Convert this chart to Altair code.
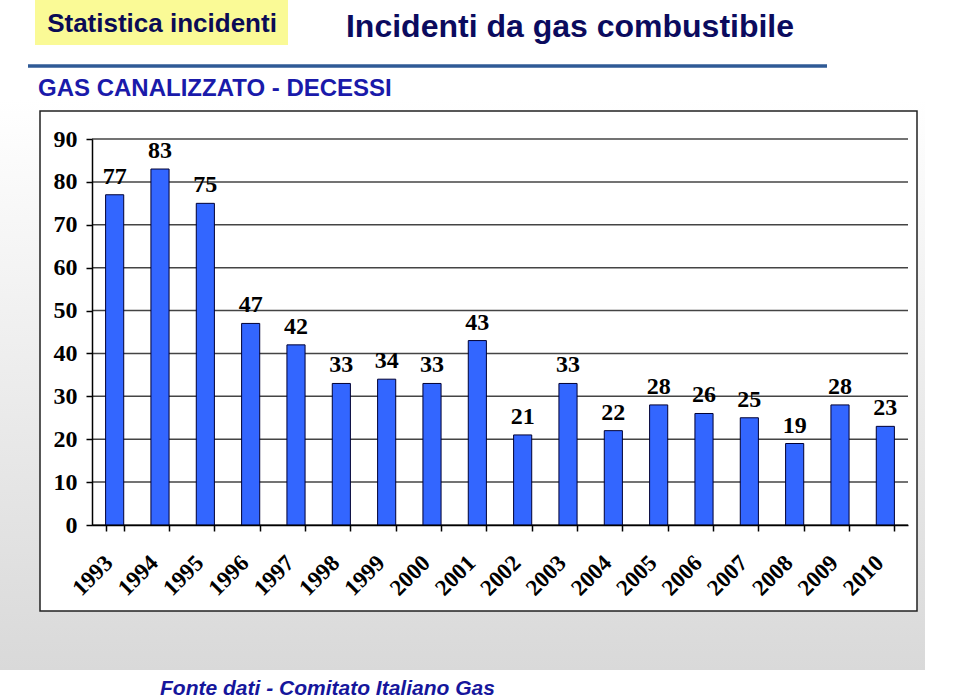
import altair as alt
import pandas as pd

# ---- data ----
years = [str(y) for y in range(1993, 2011)]
deaths = [77, 83, 75, 47, 42, 33, 34, 33, 43, 21, 33, 22, 28, 26, 25, 19, 28, 23]
y_ticks = list(range(0, 100, 10))

header_left = "Statistica incidenti"
header_main = "Incidenti da gas combustibile"
subtitle = "GAS CANALIZZATO - DECESSI"
footer = "Fonte dati - Comitato Italiano Gas"

df = pd.DataFrame({"anno": years, "decessi": deaths})
grid_df = pd.DataFrame({"decessi": y_ticks})
one = alt.Data(values=[{}])

W, H = 816, 386
SERIF = "Liberation Serif"
SANS = "Liberation Sans"

x_axis = alt.Axis(
    labelAngle=-45, labelAlign="right", labelBaseline="middle",
    labelFont=SERIF, labelFontWeight="bold", labelFontSize=23,
    labelColor="black", labelPadding=28, labelOffset=-6, tickBand="extent",
    tickSize=6, tickColor="black", tickWidth=1.5,
    domainColor="black", domainWidth=1.5, grid=False, zindex=2,
)
y_axis = alt.Axis(
    values=y_ticks, grid=False,
    labelFont=SERIF, labelFontWeight="bold", labelFontSize=24,
    labelColor="black", labelPadding=9, tickSize=6, tickColor="black",
    tickWidth=1.5, domainColor="black", domainWidth=1.5, zindex=2,
)
x_enc = alt.X("anno:N", sort=None, title=None,
              scale=alt.Scale(paddingInner=0.6, paddingOuter=0.3), axis=x_axis)
y_enc = alt.Y("decessi:Q", title=None,
              scale=alt.Scale(domain=[0, 90], nice=False), axis=y_axis)

gradient = {
    "gradient": "linear", "x1": 0, "y1": 0, "x2": 0, "y2": 1,
    "stops": [{"offset": 0, "color": "#ffffff"}, {"offset": 1, "color": "#d9d9d9"}],
}

bg = alt.Chart(one).mark_rect(fill=gradient).encode(
    x=alt.value(-92), x2=alt.value(833), y=alt.value(-39), y2=alt.value(531)
)
frame = alt.Chart(one).mark_rect(fill="white", stroke="#222222", strokeWidth=1.5).encode(
    x=alt.value(-52), x2=alt.value(825), y=alt.value(-28), y2=alt.value(472)
)

gridlines = alt.Chart(grid_df).mark_rule(color="#444444", strokeWidth=1.5).encode(
    y=y_enc
)

bars = alt.Chart(df).mark_bar(color="#3366FF", stroke="#000033", strokeWidth=1).encode(
    x=x_enc, y=y_enc
)
labels = alt.Chart(df).mark_text(
    baseline="alphabetic", dy=-11, font=SERIF, fontWeight="bold",
    fontSize=24, color="black",
).encode(x=x_enc, y=y_enc, text="decessi:Q")

ybox = alt.Chart(one).mark_rect(fill="#FAFA96").encode(
    x=alt.value(-57), x2=alt.value(196), y=alt.value(-139), y2=alt.value(-94)
)
t_left = alt.Chart(one).mark_text(
    font=SANS, fontWeight="bold", fontSize=26, color="#0B0B55",
    align="center", baseline="alphabetic",
).encode(x=alt.value(70), y=alt.value(-107), text=alt.value(header_left))
t_main = alt.Chart(one).mark_text(
    font=SANS, fontWeight="bold", fontSize=32, color="#0B0B5E",
    align="center", baseline="alphabetic",
).encode(x=alt.value(478), y=alt.value(-102), text=alt.value(header_main))
hline = alt.Chart(one).mark_rule(color="#2F5A96", strokeWidth=3.5).encode(
    x=alt.value(-64), x2=alt.value(735), y=alt.value(-73)
)
t_sub = alt.Chart(one).mark_text(
    font=SANS, fontWeight="bold", fontSize=24, color="#1A1AAA",
    align="left", baseline="alphabetic",
).encode(x=alt.value(-54), y=alt.value(-43), text=alt.value(subtitle))
t_foot = alt.Chart(one).mark_text(
    font=SANS, fontWeight="bold", fontStyle="italic", fontSize=21,
    color="#16169C", align="left", baseline="alphabetic",
).encode(x=alt.value(68), y=alt.value(556), text=alt.value(footer))

chart = alt.layer(
    bg, frame, gridlines, bars, labels, ybox, t_left, t_main, hline, t_sub, t_foot
).properties(
    width=W, height=H,
    autosize=alt.AutoSizeParams(type="none"),
    padding={"left": 92, "top": 139, "right": 52, "bottom": 175},
    background="white",
).configure_view(strokeWidth=0)

chart.save("out.html", embed_options={"renderer": "svg", "actions": False})
